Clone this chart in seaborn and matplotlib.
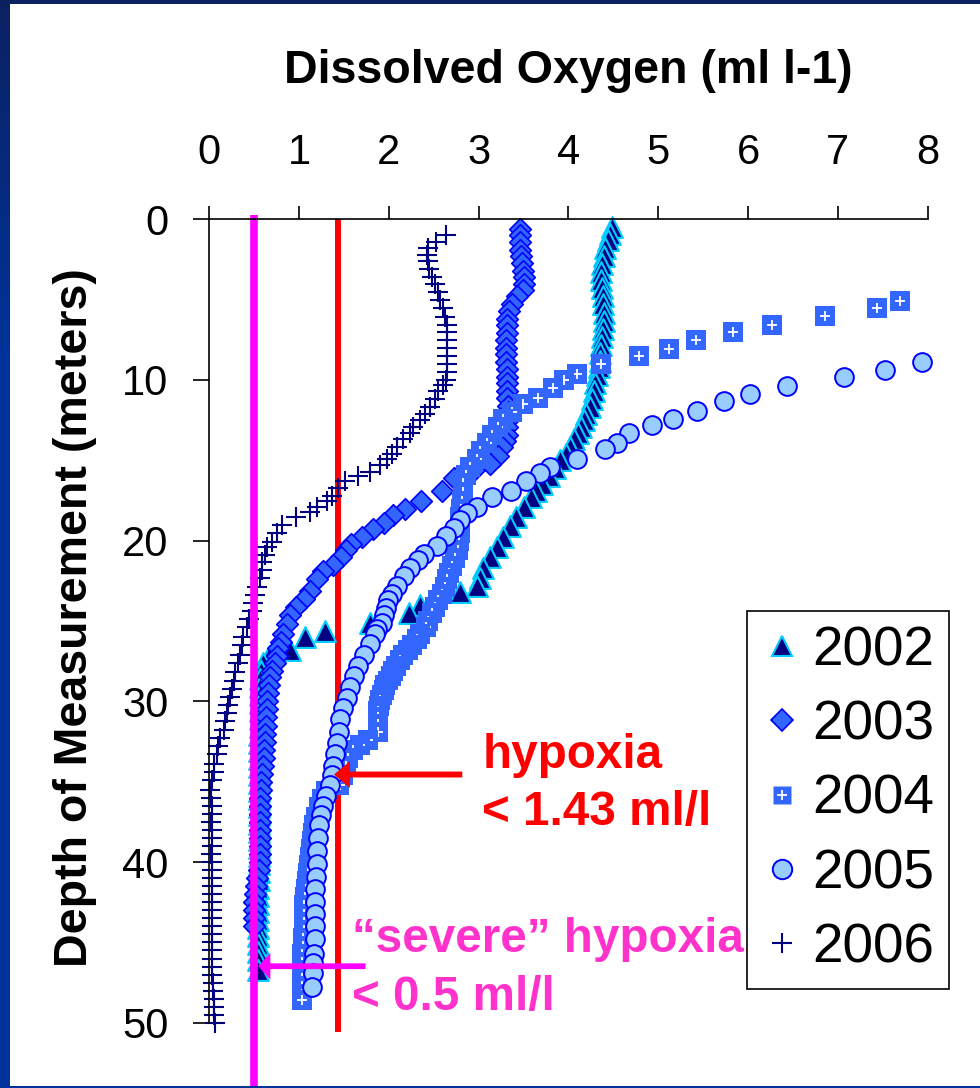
import numpy as np
import matplotlib
matplotlib.use("Agg")
import matplotlib.pyplot as plt
from matplotlib.lines import Line2D
from matplotlib.patches import Rectangle
import seaborn as sns

# ---- dissolved oxygen profiles: depth (m) and DO (ml/l) per survey year ----
depth_2002 = [0.5, 0.9, 1.3, 1.8, 2.3, 2.8, 3.3, 3.8, 4.3, 4.8, 5.3, 5.8, 6.3, 6.8, 7.3,
              7.8, 8.3, 8.8, 9.2, 9.7, 10.2, 10.7, 11.2, 11.7, 12.1, 12.5, 12.9, 13.3,
              13.7, 14.2, 14.6, 15.0, 15.5, 16.0, 16.5, 16.9, 17.3, 17.9, 18.5, 19.1,
              19.8, 20.4, 21.0, 21.7, 22.3, 22.8, 23.2, 24.0, 24.5, 25.1, 25.6, 26.0,
              26.8, 27.2, 27.6, 28.1, 28.6, 29.1, 29.6, 30.1, 30.6, 31.1, 31.6, 32.1,
              32.6, 33.1, 33.6, 34.1, 34.6, 35.1, 35.6, 36.1, 36.6, 37.1, 37.6, 38.1,
              38.6, 39.1, 39.6, 40.1, 40.6, 41.1, 41.6, 42.1, 42.6, 43.1, 43.6, 44.1,
              44.6, 45.1, 45.6, 46.1, 46.7]
do_2002 = [4.48, 4.46, 4.44, 4.41, 4.39, 4.37, 4.36, 4.36, 4.37, 4.38, 4.38, 4.39, 4.39,
           4.38, 4.37, 4.36, 4.35, 4.35, 4.34, 4.32, 4.30, 4.28, 4.26, 4.24, 4.20, 4.17,
           4.14, 4.11, 4.06, 4.02, 3.97, 3.91, 3.85, 3.78, 3.70, 3.64, 3.58, 3.50, 3.42,
           3.35, 3.27, 3.20, 3.13, 3.05, 3.01, 2.98, 2.79, 2.35, 2.22, 1.79, 1.29, 1.07,
           0.90, 0.66, 0.60, 0.58, 0.57, 0.56, 0.56, 0.56, 0.56, 0.56, 0.56, 0.55, 0.55,
           0.55, 0.55, 0.55, 0.55, 0.55, 0.55, 0.55, 0.55, 0.55, 0.55, 0.55, 0.55, 0.55,
           0.55, 0.55, 0.55, 0.55, 0.54, 0.54, 0.54, 0.54, 0.54, 0.54, 0.54, 0.54, 0.54,
           0.54, 0.54]

depth_2003 = [0.6, 1.0, 1.4, 1.9, 2.3, 2.7, 3.2, 3.6, 4.0, 4.4, 4.8, 5.3, 5.7, 6.2, 6.6,
              7.1, 7.5, 8.0, 8.4, 8.9, 9.3, 9.8, 10.2, 10.7, 11.1, 11.6, 12.0, 12.5, 12.9,
              13.4, 13.8, 14.2, 14.7, 15.2, 15.6, 16.1, 16.9, 17.5, 18.0, 18.4, 18.9,
              19.3, 19.8, 20.2, 20.6, 21.0, 21.5, 21.9, 22.4, 23.1, 23.6, 24.1, 24.6,
              25.2, 25.8, 26.3, 26.7, 27.2, 27.6, 28.1, 28.5, 29.0, 29.5, 30.0, 30.5,
              31.0, 31.5, 32.0, 32.5, 33.0, 33.5, 34.0, 34.5, 35.0, 35.5, 36.0, 36.5,
              37.0, 37.5, 38.0, 38.5, 39.0, 39.5, 40.0, 40.5, 41.0, 41.5, 42.0, 42.5,
              43.0, 43.5, 44.0]
do_2003 = [3.46, 3.46, 3.46, 3.46, 3.47, 3.48, 3.49, 3.50, 3.50, 3.49, 3.43, 3.37, 3.34,
           3.32, 3.31, 3.31, 3.30, 3.30, 3.30, 3.30, 3.31, 3.31, 3.31, 3.31, 3.32, 3.33,
           3.33, 3.33, 3.32, 3.31, 3.29, 3.26, 3.22, 3.13, 2.95, 2.72, 2.59, 2.36, 2.18,
           2.05, 1.94, 1.82, 1.70, 1.58, 1.52, 1.47, 1.38, 1.27, 1.20, 1.12, 1.05, 0.96,
           0.90, 0.86, 0.82, 0.80, 0.77, 0.75, 0.73, 0.70, 0.68, 0.66, 0.65, 0.64, 0.64,
           0.63, 0.63, 0.62, 0.62, 0.61, 0.61, 0.60, 0.59, 0.58, 0.58, 0.57, 0.57, 0.57,
           0.57, 0.57, 0.57, 0.57, 0.57, 0.56, 0.55, 0.53, 0.52, 0.51, 0.50, 0.50, 0.50,
           0.50]

depth_2004 = [5.1, 5.5, 6.0, 6.6, 7.0, 7.5, 8.1, 8.5, 9.0, 9.6, 10.0, 10.5, 11.1, 11.5,
              12.0, 12.4, 12.9, 13.4, 13.9, 14.4, 14.9, 15.4, 15.9, 16.4, 17.0, 17.5,
              18.0, 18.5, 19.0, 19.5, 20.0, 20.6, 21.1, 21.6, 22.0, 22.4, 22.9, 23.3,
              23.7, 24.1, 24.5, 25.0, 25.4, 25.8, 26.1, 26.5, 26.8, 27.1, 27.4, 27.8,
              28.1, 28.4, 28.7, 29.0, 29.3, 29.6, 29.9, 30.3, 30.6, 31.0, 31.4, 31.9,
              32.4, 32.7, 33.0, 33.5, 34.0, 34.6, 35.2, 35.6, 36.1, 36.6, 37.2, 37.7,
              38.2, 38.7, 39.2, 39.7, 40.2, 40.7, 41.2, 41.7, 42.2, 42.7, 43.2, 43.7,
              44.2, 44.7, 45.2, 45.7, 46.2, 46.7, 47.2, 47.7, 48.2, 48.6]
do_2004 = [7.69, 7.43, 6.86, 6.27, 5.83, 5.42, 5.12, 4.78, 4.36, 4.10, 3.95, 3.83, 3.66,
           3.49, 3.37, 3.27, 3.22, 3.15, 3.09, 3.02, 2.98, 2.90, 2.86, 2.83, 2.82, 2.81,
           2.80, 2.79, 2.79, 2.79, 2.78, 2.77, 2.74, 2.70, 2.67, 2.65, 2.62, 2.59, 2.55,
           2.51, 2.48, 2.44, 2.41, 2.35, 2.31, 2.26, 2.21, 2.16, 2.12, 2.08, 2.05, 2.02,
           1.99, 1.96, 1.94, 1.92, 1.90, 1.89, 1.88, 1.88, 1.88, 1.88, 1.77, 1.68, 1.60,
           1.55, 1.52, 1.49, 1.45, 1.30, 1.25, 1.22, 1.19, 1.17, 1.15, 1.14, 1.13, 1.12,
           1.11, 1.10, 1.09, 1.08, 1.07, 1.06, 1.06, 1.05, 1.05, 1.04, 1.04, 1.03, 1.03,
           1.03, 1.03, 1.03, 1.03, 1.03]

depth_2005 = [8.9, 9.4, 9.8, 10.4, 10.9, 11.3, 11.9, 12.4, 12.8, 13.3, 13.9, 14.3, 14.9,
              15.4, 15.8, 16.3, 16.9, 17.3, 17.9, 18.3, 18.7, 19.2, 19.7, 20.3, 20.8,
              21.2, 21.7, 22.2, 22.8, 23.3, 23.7, 24.2, 24.6, 25.1, 25.5, 25.8, 26.4,
              27.1, 27.8, 28.4, 29.1, 29.8, 30.4, 31.1, 31.9, 32.6, 33.3, 34.0, 34.6,
              35.2, 35.9, 36.5, 37.1, 37.7, 38.5, 39.3, 40.1, 40.9, 41.7, 42.5, 43.2,
              44.0, 44.8, 45.7, 46.3, 46.9, 47.8]
do_2005 = [7.94, 7.53, 7.07, 6.43, 6.02, 5.73, 5.43, 5.16, 4.93, 4.67, 4.54, 4.41, 4.09,
           3.79, 3.68, 3.53, 3.36, 3.15, 2.98, 2.87, 2.79, 2.73, 2.64, 2.54, 2.39, 2.32,
           2.24, 2.17, 2.09, 2.03, 1.99, 1.97, 1.95, 1.92, 1.87, 1.84, 1.79, 1.72, 1.66,
           1.61, 1.57, 1.53, 1.49, 1.46, 1.44, 1.42, 1.40, 1.38, 1.37, 1.34, 1.30, 1.27,
           1.24, 1.22, 1.21, 1.20, 1.20, 1.19, 1.18, 1.18, 1.18, 1.18, 1.18, 1.17, 1.16,
           1.16, 1.14]

depth_2006 = [1.0, 1.4, 1.8, 2.2, 2.6, 3.1, 3.6, 4.0, 4.5, 5.0, 5.5, 6.1, 6.6, 7.0, 7.5,
              8.0, 8.5, 9.0, 9.5, 10.0, 10.3, 10.7, 11.2, 11.7, 12.1, 12.5, 12.9, 13.3,
              13.7, 14.2, 14.6, 14.9, 15.3, 15.7, 16.0, 16.3, 16.7, 17.2, 17.5, 17.9,
              18.2, 18.5, 19.0, 19.5, 20.1, 20.4, 20.9, 21.3, 21.8, 22.3, 22.9, 23.4,
              23.9, 24.4, 24.9, 25.4, 26.0, 26.5, 27.1, 27.6, 28.2, 28.7, 29.2, 29.7,
              30.2, 30.7, 31.2, 31.8, 32.3, 32.8, 33.3, 33.9, 34.4, 34.9, 35.5, 36.0,
              36.5, 37.0, 37.5, 38.0, 38.5, 39.0, 39.5, 40.0, 40.5, 41.0, 41.5, 42.0,
              42.5, 43.0, 43.5, 44.0, 44.5, 45.0, 45.5, 46.0, 46.5, 47.0, 47.5, 48.0,
              48.5, 49.0, 49.5, 50.0]
do_2006 = [2.64, 2.53, 2.44, 2.42, 2.43, 2.45, 2.48, 2.51, 2.55, 2.57, 2.60, 2.62, 2.65,
           2.65, 2.65, 2.65, 2.65, 2.65, 2.65, 2.64, 2.60, 2.55, 2.51, 2.46, 2.40, 2.35,
           2.27, 2.24, 2.16, 2.09, 2.03, 1.98, 1.90, 1.79, 1.66, 1.51, 1.43, 1.37, 1.31,
           1.20, 1.12, 0.96, 0.81, 0.75, 0.70, 0.64, 0.62, 0.59, 0.59, 0.57, 0.53, 0.51,
           0.49, 0.47, 0.44, 0.42, 0.38, 0.36, 0.34, 0.32, 0.29, 0.27, 0.25, 0.23, 0.21,
           0.20, 0.18, 0.16, 0.12, 0.10, 0.09, 0.05, 0.05, 0.03, 0.01, 0.02, 0.03, 0.03,
           0.02, 0.03, 0.03, 0.03, 0.02, 0.03, 0.03, 0.03, 0.03, 0.03, 0.03, 0.03, 0.03,
           0.03, 0.03, 0.03, 0.03, 0.03, 0.03, 0.03, 0.04, 0.04, 0.05, 0.05, 0.05, 0.06]

years = ["2002", "2003", "2004", "2005", "2006"]
do_ticks = [0, 1, 2, 3, 4, 5, 6, 7, 8]
depth_ticks = [0, 10, 20, 30, 40, 50]
hypoxia_limit = 1.43
severe_limit = 0.5

# ---- style ----
sns.set_style("white")
plt.rcParams["font.family"] = ["Liberation Sans", "DejaVu Sans"]
plt.rcParams["text.color"] = "black"
plt.rcParams["axes.labelcolor"] = "black"
plt.rcParams["xtick.color"] = "black"
plt.rcParams["ytick.color"] = "black"

NAVY = "#000080"
CYAN = "#00CCFF"
ROYAL = "#3366FF"
BLUE = "#0000FF"
SKY = "#99CCFF"
RED = "#FF0000"
MAGENTA = "#FF00FF"
PINK = "#FF33CC"

fig = plt.figure(figsize=(9.8, 10.88), dpi=100)
fig.patch.set_facecolor("white")
ax = fig.add_axes([0.21357, 0.05993, 0.73306, 0.73851])
ax.set_facecolor("none")

# hypoxia threshold (drawn beneath the profiles)
ax.axvline(hypoxia_limit, ymin=-0.012, ymax=1.0, color=RED, lw=4.3,
           solid_capstyle="butt", clip_on=False, zorder=1)

# profiles, one series after another
common = dict(ax=ax, legend=False, clip_on=False)
sns.scatterplot(x=do_2002, y=depth_2002, marker="^", s=225, color=NAVY,
                edgecolor=CYAN, linewidth=1.5, zorder=3, **common)
sns.scatterplot(x=do_2003, y=depth_2003, marker="D", s=121, color=ROYAL,
                edgecolor=BLUE, linewidth=1.2, zorder=4, **common)
# squares carry a white cross; each point is drawn as a pair so later squares overlap earlier crosses
for d, v in zip(depth_2004, do_2004):
    sns.scatterplot(x=[v], y=[d], marker="s", s=207, color=ROYAL,
                    edgecolor="none", linewidth=0, zorder=5, **common)
    sns.scatterplot(x=[v], y=[d], marker="+", s=52, color="white",
                    linewidth=1.3, zorder=5, **common)
sns.scatterplot(x=do_2005, y=depth_2005, marker="o", s=182, color=SKY,
                edgecolor=BLUE, linewidth=1.4, zorder=6, **common)
sns.scatterplot(x=do_2006, y=depth_2006, marker="+", s=207, color=NAVY,
                linewidth=1.5, zorder=7, **common)

# severe hypoxia threshold (drawn over the profiles)
ax.axvline(severe_limit, ymin=-0.081, ymax=1.0054, color=MAGENTA, lw=5.5,
           solid_capstyle="butt", clip_on=False, zorder=8)

# ---- axes ----
ax.set_xlim(0, 8)
ax.set_ylim(50, 0)
ax.set_xticks(do_ticks)
ax.set_yticks(depth_ticks)
ax.xaxis.tick_top()
ax.grid(False)
for side in ["right", "bottom"]:
    ax.spines[side].set_visible(False)
for side in ["top", "left"]:
    ax.spines[side].set_color("black")
    ax.spines[side].set_linewidth(1.2)
    ax.spines[side].set_zorder(9)
ax.tick_params(axis="x", direction="out", length=9.5, width=1.2, color="black",
               labelsize=30, pad=24, top=True, bottom=False,
               labeltop=True, labelbottom=False, labelcolor="black")
ax.tick_params(axis="y", direction="out", length=11.5, width=1.2, color="black",
               labelsize=30, pad=18, left=True, labelcolor="black")

ax.set_xlabel("Dissolved Oxygen (ml l-1)", fontsize=33.5, fontweight="bold",
              color="black")
ax.xaxis.set_label_position("top")
ax.xaxis.set_label_coords(0.5, 1.1693)
ax.xaxis.label.set_va("baseline")
ax.set_ylabel("Depth of Measurement (meters)", fontsize=33.5, fontweight="bold",
              color="black")
ax.yaxis.set_label_coords(-0.1876, 0.504)
ax.yaxis.label.set_va("center")

# ---- threshold annotations ----
ax.arrow(2.817, 34.55, 1.389 - 2.817, 0, width=0.37, head_width=1.66,
         head_length=0.178, length_includes_head=True, color=RED, lw=0,
         clip_on=False, zorder=10)
ax.arrow(1.74, 46.48, 0.546 - 1.74, 0, width=0.36, head_width=1.66,
         head_length=0.134, length_includes_head=True, color=MAGENTA, lw=0,
         clip_on=False, zorder=10)

note_size = 34.3
ax.text(3.04, 34.14, "hypoxia", color=RED, fontsize=note_size, fontweight="bold",
        ha="left", va="baseline", zorder=11, clip_on=False)
ax.text(3.04, 37.69, f"< {hypoxia_limit} ml/l", color=RED, fontsize=note_size,
        fontweight="bold", ha="left", va="baseline", zorder=11, clip_on=False)
ax.text(1.59, 45.58, "\u201csevere\u201d hypoxia", color=PINK, fontsize=note_size,
        fontweight="bold", ha="left", va="baseline", zorder=11, clip_on=False)
ax.text(1.59, 49.2, f"< {severe_limit} ml/l", color=PINK, fontsize=note_size,
        fontweight="bold", ha="left", va="baseline", zorder=11, clip_on=False)

# ---- legend ----
handles = [
    Line2D([], [], ls="none", marker="^", ms=15, mfc=NAVY, mec=CYAN, mew=1.5),
    Line2D([], [], ls="none", marker="D", ms=11, mfc=ROYAL, mec=BLUE, mew=1.2),
    (Line2D([], [], ls="none", marker="s", ms=13.5, mfc=ROYAL, mec="none"),
     Line2D([], [], ls="none", marker="+", ms=7, mec="white", mew=1.3)),
    Line2D([], [], ls="none", marker="o", ms=14, mfc=SKY, mec=BLUE, mew=1.4),
    Line2D([], [], ls="none", marker="+", ms=14.4, mec=NAVY, mew=1.5),
]
leg = ax.legend(handles, years, loc="upper left", bbox_to_anchor=(0.7485, 0.5125),
                borderaxespad=0, fontsize=39.5, frameon=True, fancybox=False,
                framealpha=1, borderpad=0.26, labelspacing=0.406,
                handlelength=0.75, handletextpad=0.18)
leg.get_frame().set_edgecolor("black")
leg.get_frame().set_linewidth(1.2)
leg.get_frame().set_facecolor("white")
for t in leg.get_texts():
    t.set_color("black")
leg.set_zorder(20)

# ---- slide frame ----
fig.patches.append(Rectangle((0, 1 - 4 / 1088), 1, 4 / 1088, transform=fig.transFigure,
                             facecolor="#0B2161", edgecolor="none", zorder=30))
fig.patches.append(Rectangle((0, 0), 1, 2.5 / 1088, transform=fig.transFigure,
                             facecolor="#003399", edgecolor="none", zorder=30))
strip = fig.add_axes([0, 0, 9 / 980, 1], zorder=30)
top_rgb = np.array([0x0B, 0x21, 0x61]) / 255
low_rgb = np.array([0x00, 0x33, 0x99]) / 255
rows = np.clip(np.arange(1088) / 350.0, 0, 1)[:, None]
grad = (top_rgb[None, :] * (1 - rows) + low_rgb[None, :] * rows)[:, None, :]
strip.imshow(grad, aspect="auto", interpolation="nearest")
strip.axis("off")

fig.savefig("out.png", dpi=100, facecolor="white")
